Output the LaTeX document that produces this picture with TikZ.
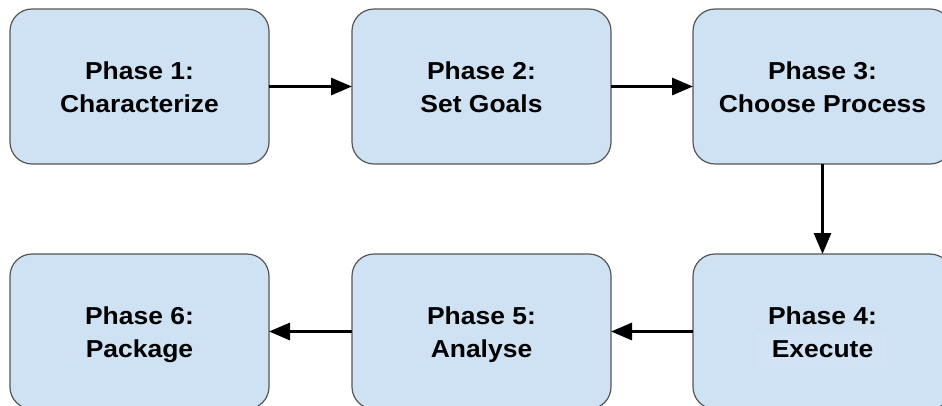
\documentclass[tikz,border=0pt]{standalone}
\usepackage{fontspec}
\newfontfamily\phasefont{Liberation Sans}[FakeStretch=1.08]
\usetikzlibrary{arrows.meta}
\definecolor{boxfill}{HTML}{CFE2F3}
\definecolor{boxline}{HTML}{555555}
\definecolor{hlfill}{HTML}{D1E3F4}
\begin{document}
\begin{tikzpicture}[x=1pt,y=-1pt,
  phase/.style={draw=boxline, line width=1.2pt, fill=boxfill, rounded corners=22pt,
    minimum width=259pt, minimum height=155pt, inner sep=0pt, outer sep=0pt},
  lbl/.style={font=\phasefont\bfseries\fontsize{24.5}{32.7}\selectfont, align=center,
    inner sep=0pt, yshift=-3pt},
  flow/.style={line width=3pt, -{Triangle[length=21pt,width=17pt]}}]
\useasboundingbox (0,0) rectangle (942,405);

% the six phase boxes
\node[phase] (b1) at (139.5,86.5) {};
\node[phase] (b2) at (481.5,86.5) {};
\node[phase] (b3) at (822.5,86.5) {};
\node[phase] (b4) at (822.5,331.5) {};
\node[phase] (b5) at (481.5,331.5) {};
\node[phase] (b6) at (139.5,331.5) {};

% text highlight behind "Execute"
\fill[hlfill] ([shift={(-66.5,1.5)}]b4.center) rectangle ([shift={(64.5,35.5)}]b4.center);

% labels
\node[lbl] (l1) at (b1.center) {\vphantom{hg}Phase 1:\\Characterize\vphantom{hg}};
\node[lbl] (l2) at (b2.center) {\vphantom{hg}Phase 2:\\Set Goals\vphantom{hg}};
\node[lbl] (l3) at (b3.center) {\vphantom{hg}Phase 3:\\Choose Process\vphantom{hg}};
\node[lbl] (l4) at (b4.center) {\vphantom{hg}Phase 4:\\Execute\vphantom{hg}};
\node[lbl] (l5) at (b5.center) {\vphantom{hg}Phase 5:\\Analyse\vphantom{hg}};
\node[lbl] (l6) at (b6.center) {\vphantom{hg}Phase 6:\\Package\vphantom{hg}};

% flow between phases
\draw[flow] (b1.east) -- (b2.west);
\draw[flow] (b2.east) -- (b3.west);
\draw[flow] (b3.south) -- (b4.north);
\draw[flow] (b4.west) -- (b5.east);
\draw[flow] (b5.west) -- (b6.east);
\end{tikzpicture}
\end{document}
